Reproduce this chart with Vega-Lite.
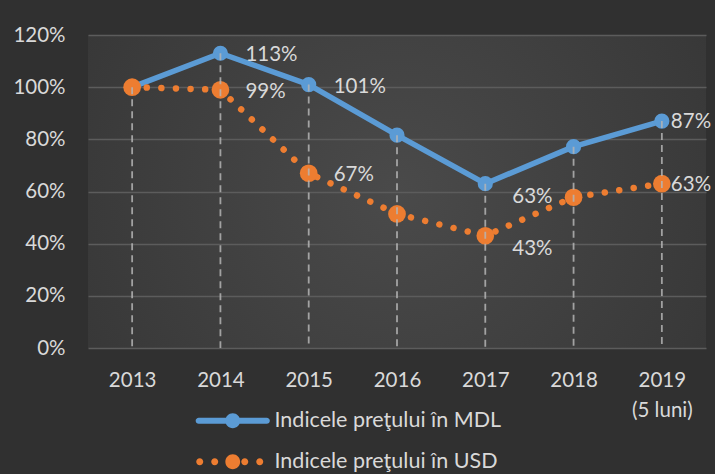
{
  "$schema": "https://vega.github.io/schema/vega-lite/v6.json",
  "width": 618,
  "height": 313,
  "autosize": {"type": "none"},
  "padding": {"left": 88, "top": 35, "right": 9, "bottom": 126},
  "background": "#303030",
  "config": {
    "font": "Lato",
    "view": {
      "stroke": null,
      "fill": {
        "gradient": "radial",
        "x1": 0.5, "y1": 0.5, "r1": 0,
        "x2": 0.5, "y2": 0.5, "r2": 0.75,
        "stops": [
          {"offset": 0, "color": "#4a4a4a"},
          {"offset": 1, "color": "#323232"}
        ]
      }
    },
    "axis": {
      "labelColor": "#d9d9d9",
      "labelFont": "Lato",
      "labelFontSize": 20.5,
      "domain": false,
      "ticks": false,
      "title": null
    },
    "legend": {
      "labelColor": "#d9d9d9",
      "labelFont": "Lato",
      "labelFontSize": 21.5,
      "labelLimit": 400
    }
  },
  "data": {
    "values": [
      {"year": "2013", "series": "Indicele preţului în MDL", "value": 1.00},
      {"year": "2014", "series": "Indicele preţului în MDL", "value": 1.13},
      {"year": "2015", "series": "Indicele preţului în MDL", "value": 1.01},
      {"year": "2016", "series": "Indicele preţului în MDL", "value": 0.816},
      {"year": "2017", "series": "Indicele preţului în MDL", "value": 0.63},
      {"year": "2018", "series": "Indicele preţului în MDL", "value": 0.772},
      {"year": "2019", "series": "Indicele preţului în MDL", "value": 0.87},
      {"year": "2013", "series": "Indicele preţului în USD", "value": 1.00},
      {"year": "2014", "series": "Indicele preţului în USD", "value": 0.99},
      {"year": "2015", "series": "Indicele preţului în USD", "value": 0.67},
      {"year": "2016", "series": "Indicele preţului în USD", "value": 0.514},
      {"year": "2017", "series": "Indicele preţului în USD", "value": 0.43},
      {"year": "2018", "series": "Indicele preţului în USD", "value": 0.578},
      {"year": "2019", "series": "Indicele preţului în USD", "value": 0.63}
    ]
  },
  "encoding": {
    "x": {
      "field": "year",
      "type": "ordinal",
      "scale": {"type": "point", "padding": 0.5},
      "axis": {
        "labelAngle": 0,
        "labelPadding": 22,
        "labelLineHeight": 30,
        "labelBaseline": "top",
        "labelExpr": "datum.value == '2019' ? ['2019', '(5 luni)'] : datum.value",
        "grid": false
      }
    },
    "y": {
      "field": "value",
      "type": "quantitative",
      "scale": {"domain": [0, 1.2], "nice": false},
      "axis": {
        "values": [0, 0.2, 0.4, 0.6, 0.8, 1.0, 1.2],
        "format": ".0%",
        "labelPadding": 23,
        "grid": true,
        "gridColor": "#5c5c5c",
        "gridWidth": 1.3
      }
    }
  },
  "layer": [
    {
      "transform": [{"filter": "datum.series == 'Indicele preţului în MDL'"}],
      "mark": {"type": "line", "strokeWidth": 5.5, "strokeCap": "round", "strokeJoin": "round"},
      "encoding": {
        "color": {
          "field": "series",
          "type": "nominal",
          "scale": {"domain": ["Indicele preţului în MDL", "Indicele preţului în USD"], "range": ["#5b9bd5", "#ed7d31"]},
          "legend": {
            "orient": "none",
            "legendX": 134,
            "legendY": 375,
            "title": null,
            "padding": 0,
            "rowPadding": 18,
            "symbolSize": 342,
            "labelOffset": 31,
            "symbolStrokeWidth": 0,
            "encode": {
              "symbols": {
                "update": {
                  "shape": {"signal": "datum.value == 'Indicele preţului în MDL' ? 'M-3.68,-0.33 L3.68,-0.33 A0.33,0.33 0 0 1 3.68,0.33 L-3.68,0.33 A0.33,0.33 0 0 1 -3.68,-0.33 Z M-0.8,0 A0.8,0.8 0 1 1 0.8,0 A0.8,0.8 0 1 1 -0.8,0 Z' : 'M-3.95,0 A0.38,0.38 0 1 1 -3.19,0 A0.38,0.38 0 1 1 -3.95,0 Z M-2.33,0 A0.38,0.38 0 1 1 -1.57,0 A0.38,0.38 0 1 1 -2.33,0 Z M-0.8,0 A0.8,0.8 0 1 1 0.8,0 A0.8,0.8 0 1 1 -0.8,0 Z M0.92,0 A0.38,0.38 0 1 1 1.68,0 A0.38,0.38 0 1 1 0.92,0 Z M2.54,0 A0.38,0.38 0 1 1 3.3,0 A0.38,0.38 0 1 1 2.54,0 Z'"},
                  "fill": {"scale": "color", "field": "value"},
                  "stroke": {"value": "transparent"},
                  "size": {"value": 342},
                  "opacity": {"value": 1},
                  "strokeWidth": {"value": 0}
                }
              }
            }
          }
        }
      }
    },
    {
      "transform": [{"filter": "datum.series == 'Indicele preţului în MDL'"}],
      "mark": {"type": "point", "filled": true, "size": 230, "opacity": 1},
      "encoding": {"color": {"field": "series", "type": "nominal"}}
    },
    {
      "transform": [{"filter": "datum.series == 'Indicele preţului în USD'"}],
      "mark": {"type": "line", "strokeWidth": 6.5, "strokeCap": "round", "strokeDash": [0.01, 14.6]},
      "encoding": {"color": {"field": "series", "type": "nominal"}}
    },
    {
      "transform": [{"filter": "datum.series == 'Indicele preţului în USD'"}],
      "mark": {"type": "point", "filled": true, "size": 314, "opacity": 1},
      "encoding": {"color": {"field": "series", "type": "nominal"}}
    },
    {
      "transform": [{"filter": "datum.series == 'Indicele preţului în MDL'"}],
      "mark": {"type": "rule", "color": "#b4b4b4", "strokeWidth": 1.8, "strokeDash": [7, 5], "opacity": 0.85},
      "encoding": {"y2": {"datum": 0}}
    },
    {
      "transform": [{"filter": "(datum.year == '2014' || datum.year == '2015')"}],
      "mark": {"type": "text", "align": "left", "baseline": "middle", "dx": 25, "dy": 2, "fontSize": 20.5, "color": "#d9d9d9"},
      "encoding": {"text": {"field": "value", "type": "quantitative", "format": ".0%"}}
    },
    {
      "transform": [{"filter": "datum.year == '2017'"}],
      "mark": {"type": "text", "align": "left", "baseline": "middle", "dx": 27, "dy": 13, "fontSize": 20.5, "color": "#d9d9d9"},
      "encoding": {"text": {"field": "value", "type": "quantitative", "format": ".0%"}}
    },
    {
      "transform": [{"filter": "datum.year == '2019'"}],
      "mark": {"type": "text", "align": "left", "baseline": "middle", "dx": 9, "dy": 1, "fontSize": 20.5, "color": "#d9d9d9"},
      "encoding": {"text": {"field": "value", "type": "quantitative", "format": ".0%"}}
    }
  ]
}
